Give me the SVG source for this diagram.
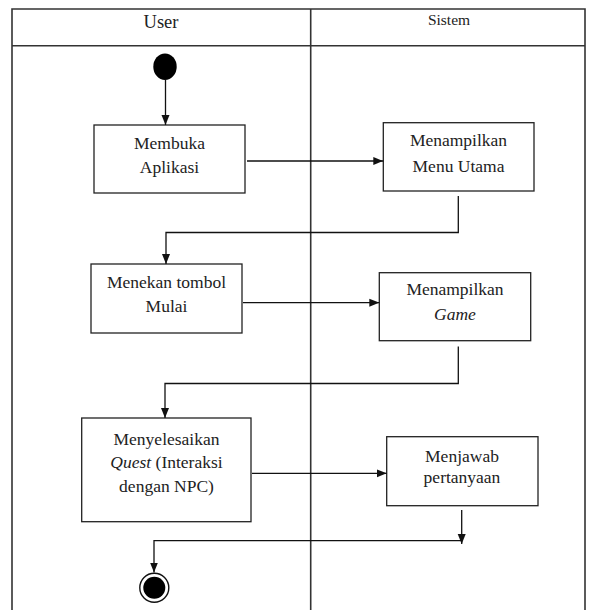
<svg xmlns="http://www.w3.org/2000/svg" width="589" height="610" viewBox="0 0 589 610">
<style>
.frame{fill:none;stroke:#333;stroke-width:1.6}
.box{fill:#fff;stroke:#222;stroke-width:1.3}
.line{fill:none;stroke:#111;stroke-width:1.3}
</style>
<defs>
<marker id="ah" markerUnits="userSpaceOnUse" markerWidth="10" markerHeight="10" viewBox="0 0 10 10" refX="10" refY="5" orient="auto">
<path d="M0,1 L10,5 L0,9 Z" fill="#111"/>
</marker>
</defs>
<rect width="589" height="610" fill="#fff"/>
<g id="swimlanes">
<path class="frame" d="M12,612 V9 H585 V612"/>
<path class="frame" d="M12,45.7 H585"/>
<path class="frame" d="M310.7,9 V612"/>
<text x="161" y="28" style="font-family:'Liberation Serif','Times New Roman',serif;font-size:18.5px;fill:#222;text-anchor:middle">User</text>
<text x="449" y="25" style="font-family:'Liberation Serif','Times New Roman',serif;font-size:15.5px;fill:#222;text-anchor:middle">Sistem</text>
</g>
<g id="start">
<ellipse cx="165" cy="66.7" rx="11.7" ry="13.3" fill="#000"/>
</g>
<g id="membuka">
<rect class="box" x="94" y="125" width="151" height="68"/>
<text x="169.5" y="149" style="font-family:'Liberation Serif','Times New Roman',serif;font-size:17.5px;fill:#222;text-anchor:middle">Membuka</text>
<text x="169.5" y="173" style="font-family:'Liberation Serif','Times New Roman',serif;font-size:17.5px;fill:#222;text-anchor:middle">Aplikasi</text>
</g>
<g id="menu">
<rect class="box" x="383.3" y="122.7" width="150.7" height="68.3"/>
<text x="458.5" y="146" style="font-family:'Liberation Serif','Times New Roman',serif;font-size:17.5px;fill:#222;text-anchor:middle">Menampilkan</text>
<text x="458.5" y="171.5" style="font-family:'Liberation Serif','Times New Roman',serif;font-size:17.5px;fill:#222;text-anchor:middle">Menu Utama</text>
</g>
<g id="menekan">
<rect class="box" x="91" y="264" width="151" height="69"/>
<text x="166.5" y="288" style="font-family:'Liberation Serif','Times New Roman',serif;font-size:17.5px;fill:#222;text-anchor:middle">Menekan tombol</text>
<text x="166.5" y="312" style="font-family:'Liberation Serif','Times New Roman',serif;font-size:17.5px;fill:#222;text-anchor:middle">Mulai</text>
</g>
<g id="game">
<rect class="box" x="379.3" y="272.7" width="151.4" height="68"/>
<text x="455" y="295" style="font-family:'Liberation Serif','Times New Roman',serif;font-size:17.5px;fill:#222;text-anchor:middle">Menampilkan</text>
<text x="455" y="320" style="font-family:'Liberation Serif','Times New Roman',serif;font-size:17.5px;font-style:italic;fill:#222;text-anchor:middle">Game</text>
</g>
<g id="menyelesaikan">
<rect class="box" x="81.7" y="418" width="169.3" height="103.7"/>
<text x="166.5" y="445" style="font-family:'Liberation Serif','Times New Roman',serif;font-size:17.5px;fill:#222;text-anchor:middle">Menyelesaikan</text>
<text x="166.5" y="468" style="font-family:'Liberation Serif','Times New Roman',serif;font-size:17.5px;fill:#222;text-anchor:middle"><tspan style="font-style:italic">Quest</tspan> (Interaksi</text>
<text x="166.5" y="491.7" style="font-family:'Liberation Serif','Times New Roman',serif;font-size:17.5px;fill:#222;text-anchor:middle">dengan NPC)</text>
</g>
<g id="menjawab">
<rect class="box" x="386.7" y="436.7" width="151.3" height="69"/>
<text x="462" y="461.7" style="font-family:'Liberation Serif','Times New Roman',serif;font-size:17.5px;fill:#222;text-anchor:middle">Menjawab</text>
<text x="462" y="483" style="font-family:'Liberation Serif','Times New Roman',serif;font-size:17.5px;fill:#222;text-anchor:middle">pertanyaan</text>
</g>
<g id="end">
<circle cx="154.3" cy="587.7" r="14.5" fill="#fff" stroke="#111" stroke-width="1.4"/>
<circle cx="154.3" cy="587.7" r="11" fill="#000"/>
</g>
<g id="connectors">
<path class="line" d="M165.5,80 V125" marker-end="url(#ah)"/>
<path class="line" d="M247,161 H383.3" marker-end="url(#ah)"/>
<path class="line" d="M458.3,196 V232.5 H166 V264" marker-end="url(#ah)"/>
<path class="line" d="M243,302.7 H379.3" marker-end="url(#ah)"/>
<path class="line" d="M458.3,346.5 V383.5 H165 V418" marker-end="url(#ah)"/>
<path class="line" d="M252,473.3 H386.7" marker-end="url(#ah)"/>
<path class="line" d="M461.7,510 V544" marker-end="url(#ah)"/>
<path class="line" d="M461.7,540.7 H154 V572.5" marker-end="url(#ah)"/>
</g>
</svg>
